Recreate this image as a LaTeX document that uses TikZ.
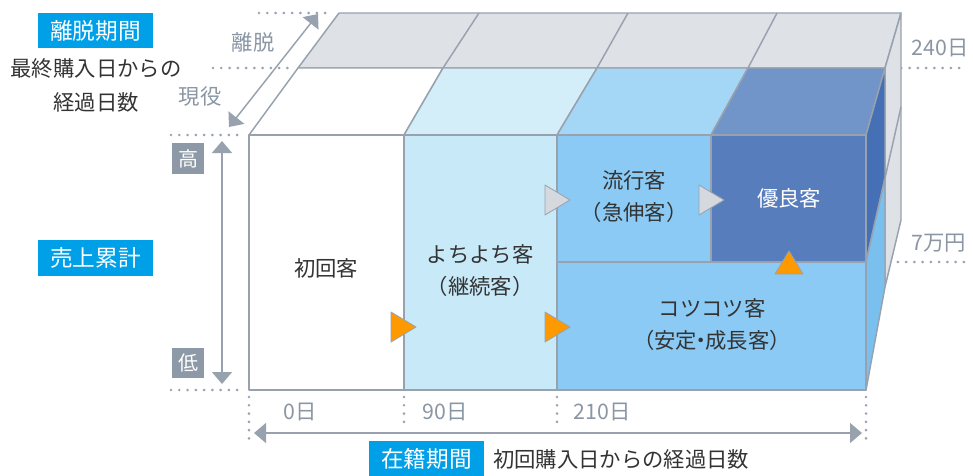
\documentclass[tikz,border=0pt]{standalone}
\usepackage{fontspec}
\setmainfont{Noto Sans CJK JP}
\usetikzlibrary{arrows.meta}
\definecolor{edgec}{HTML}{98A2AE}
\definecolor{dotc}{HTML}{98A2B0}
\definecolor{greyface}{HTML}{DEE1E6}
\definecolor{cyanlab}{HTML}{00A0E9}
\definecolor{greylab}{HTML}{8D99A6}
\definecolor{greytext}{HTML}{8A96A4}
\definecolor{darktext}{HTML}{333333}
\definecolor{ctop}{HTML}{D3EEF9}
\definecolor{cfront}{HTML}{C7E9F8}
\definecolor{btop}{HTML}{A4D6F5}
\definecolor{bfront}{HTML}{8ACAF4}
\definecolor{ntop}{HTML}{7194C9}
\definecolor{nfront}{HTML}{587DBD}
\definecolor{nside}{HTML}{4670B6}
\definecolor{bside}{HTML}{79C0EF}
\definecolor{orangem}{HTML}{FF9900}
\definecolor{greym}{HTML}{D5D8DD}
\tikzset{
  face/.style={draw=edgec, line width=1.1pt, line join=round},
  eline/.style={draw=edgec, line width=1.1pt},
  dotline/.style={draw=dotc, line width=2.2pt, line cap=round, dash pattern=on 0pt off 6.2pt},
  dblarrow/.style={draw=edgec, line width=1.1pt, {Triangle[length=9pt,width=15pt]}-{Triangle[length=9pt,width=15pt]}},
  cyanbox/.style={fill=cyanlab, text=white, font=\fontsize{17}{20}\selectfont, inner sep=0pt, minimum width=86pt, minimum height=26.5pt},
  greybox/.style={fill=greylab, text=white, font=\fontsize{15}{18}\selectfont, inner sep=0pt, minimum width=24pt, minimum height=23pt},
  darklab/.style={text=darktext, font=\fontsize{16}{19}\selectfont, inner sep=0pt},
  greylabel/.style={text=greytext, font=\fontsize{16}{19}\selectfont, inner sep=0pt},
  celltext/.style={text=darktext, font=\fontsize{16}{24}\selectfont, align=center, inner sep=0pt},
  marker/.style={draw=edgec, line width=0.6pt, line join=round},
}
\begin{document}
\begin{tikzpicture}[x=0.75pt,y=-0.75pt]
\useasboundingbox (0,0) rectangle (973,475);

% dotted guide lines
\draw[dotline] (259,13) -- (333,13);
\draw[dotline] (213,68) -- (292,68);
\draw[dotline] (171,135) -- (245,135);
\draw[dotline] (171,390) -- (245,390);
\draw[dotline] (893,68) -- (965,68);
\draw[dotline] (873,262) -- (968,262);
\draw[dotline] (249,397) -- (249,443);
\draw[dotline] (404,397) -- (404,428);
\draw[dotline] (557,397) -- (557,428);
\draw[dotline] (866,397) -- (866,443);

% back (離脱) layer
\filldraw[face, fill=greyface] (339,13) -- (901,13) -- (885,68) -- (298,68) -- cycle;
\draw[eline] (443,68) -- (479,13);
\draw[eline] (597,68) -- (628,13);
\draw[eline] (748,68) -- (777,13);
\filldraw[face, fill=greyface] (885,68) -- (901,13) -- (901,220) -- (885,287) -- cycle;
\draw[eline] (901,107) -- (885,178);

% top faces of 現役 layer
\filldraw[face, fill=white] (249,135) -- (404,135) -- (443,68) -- (298,68) -- cycle;
\filldraw[face, fill=ctop] (404,135) -- (557,135) -- (597,68) -- (443,68) -- cycle;
\filldraw[face, fill=btop] (557,135) -- (711,135) -- (748,68) -- (597,68) -- cycle;
\filldraw[face, fill=ntop] (711,135) -- (866,135) -- (885,68) -- (748,68) -- cycle;

% right faces
\filldraw[face, fill=nside] (866,135) -- (885,68) -- (885,178) -- (866,262) -- cycle;
\filldraw[face, fill=bside] (866,262) -- (885,178) -- (885,287) -- (866,390) -- cycle;

% front faces
\filldraw[face, fill=white] (249,135) rectangle (404,390);
\filldraw[face, fill=cfront] (404,135) rectangle (557,390);
\filldraw[face, fill=bfront] (557,135) rectangle (711,262);
\filldraw[face, fill=nfront] (711,135) rectangle (866,262);
\filldraw[face, fill=bfront] (557,262) rectangle (866,390);

% cell texts
\node[celltext] (shokai) at (326,268) {初回客};
\node[celltext] (yochi) at (480,271) {よちよち客\\（継続客）};
\node[celltext] (ryuko) at (634,197) {流行客\\（急伸客）};
\node[celltext, text=white] (yuryo) at (789,198) {優良客};
\node[celltext] (kotsu) at (712,325) {コツコツ客\\（安定\kern-0.3em・\kern-0.3em成長客）};

% markers
\filldraw[marker, fill=orangem] (391,312) -- (416,327) -- (391,342) -- cycle;
\filldraw[marker, fill=orangem] (545,312) -- (570,327) -- (545,342) -- cycle;
\filldraw[marker, fill=greym] (545,185) -- (570,200) -- (545,215) -- cycle;
\filldraw[marker, fill=greym] (699,185) -- (724,200) -- (699,215) -- cycle;
\filldraw[marker, fill=orangem] (775,274) -- (789,251) -- (803,274) -- cycle;

% arrows
\coordinate (dA) at (229,127);
\coordinate (dB) at (318,14);
\draw[dblarrow] (dA) -- (dB);
\coordinate (vA) at (222,141);
\coordinate (vB) at (222,384);
\draw[dblarrow] (vA) -- (vB);
\coordinate (hA) at (254,433);
\coordinate (hB) at (862,433);
\draw[dblarrow] (hA) -- (hB);

% left labels
\node[cyanbox] (ridatsu) at (95.5,30.5) {離脱期間};
\node[darklab] (saishu1) at (96,68) {最終購入日からの};
\node[darklab] (saishu2) at (96,102) {経過日数};
\node[greylabel] (ridatsu2) at (253,42) {離脱};
\node[greylabel] (geneki) at (200,96) {現役};
\node[greybox] (taka) at (188,158.5) {高};
\node[greybox] (hiku) at (188,363) {低};
\node[cyanbox] (uriage) at (95.5,258) {売上累計};

% bottom labels
\node[greylabel] (d0) at (300,412) {0日};
\node[greylabel] (d90) at (445,412) {90日};
\node[greylabel] (d210) at (602,412) {210日};
\node[cyanbox] (zaiseki) at (426.5,458.5) {在籍期間};
\node[darklab, anchor=west] (shokai2) at (493,459) {初回購入日からの経過日数};

% right labels
\node[greylabel] (d240) at (940,48) {240日};
\node[greylabel] (man7) at (939,243) {7万円};
\end{tikzpicture}
\end{document}
